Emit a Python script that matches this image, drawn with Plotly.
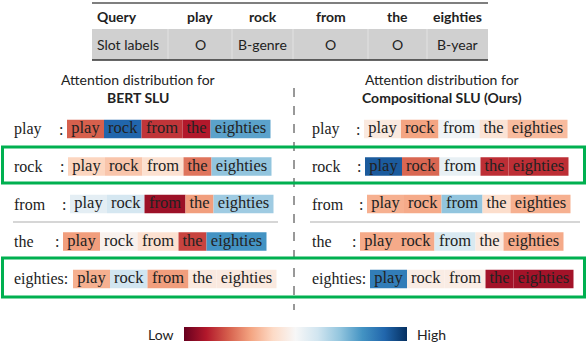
import plotly.graph_objects as go

# ---------------- data ----------------
words = ["play", "rock", "from", "the", "eighties"]
query_tokens = ["play", "rock", "from", "the", "eighties"]
slot_labels = ["O", "B-genre", "O", "O", "B-year"]
row_labels = ["play", "rock", "from", "the", "eighties:"]
panel_titles = ["BERT SLU", "Compositional SLU (Ours)"]

# attention weights mapped on a 0 (low) .. 1 (high) scale, rows = query word
bert_attention = [
    [0.20, 0.90, 0.14, 0.10, 0.77],
    [0.39, 0.36, 0.42, 0.23, 0.70],
    [0.55, 0.59, 0.07, 0.29, 0.68],
    [0.29, 0.48, 0.42, 0.16, 0.80],
    [0.32, 0.60, 0.29, 0.45, 0.45],
]
comp_attention = [
    [0.45, 0.30, 0.52, 0.43, 0.34],
    [0.92, 0.21, 0.54, 0.13, 0.13],
    [0.32, 0.31, 0.70, 0.41, 0.32],
    [0.31, 0.31, 0.58, 0.45, 0.31],
    [0.85, 0.46, 0.46, 0.08, 0.08],
]

# ---------------- layout constants ----------------
W, H = 588, 342
CELL_W = {"play": 37, "rock": 37.5, "from": 41, "the": 28, "eighties": 60}
ROW_Y0, ROW_STEP, CELL_H = 129, 37.5, 18.5
LABEL_X = [12, 310]
ROW_START = [[67, 68, 70, 63, 73], [364, 365, 367, 360, 370]]
TITLE_X = [138, 442]
SERIF = "Liberation Serif"
SERIF_SIZE = 16.5
LABEL_SIZE = 16
SANS = "Lato"
TXT = "#222222"

colorscale = [[0.0, "#67001f"], [0.1, "#b2182b"], [0.2, "#d6604d"], [0.3, "#f4a582"],
              [0.4, "#fddbc7"], [0.5, "#f7f7f7"], [0.6, "#d1e5f0"], [0.7, "#92c5de"],
              [0.8, "#4393c3"], [0.9, "#2166ac"], [1.0, "#053061"]]

fig = go.Figure()
annotations = []
shapes = []

for p, mat in enumerate([bert_attention, comp_attention]):
    xs, bases, ys, cols, cx, cy, ctext = [], [], [], [], [], [], []
    for r, row in enumerate(mat):
        yc = ROW_Y0 + r * ROW_STEP
        x0 = ROW_START[p][r]
        for w, v in zip(words, row):
            wd = CELL_W[w]
            xs.append(wd)
            bases.append(x0)
            ys.append(yc)
            cols.append(v)
            cx.append(x0 + wd / 2)
            cy.append(yc)
            ctext.append(w)
            x0 += wd
        annotations.append(dict(x=LABEL_X[p], y=yc, xref="x", yref="y", text=row_labels[r],
                                showarrow=False, xanchor="left", yanchor="middle",
                                font=dict(family=SERIF, size=LABEL_SIZE, color=TXT)))
        if not row_labels[r].endswith(":"):
            annotations.append(dict(x=ROW_START[p][r] - 6, y=yc, xref="x", yref="y", text=":",
                                    showarrow=False, xanchor="center", yanchor="middle",
                                    font=dict(family=SERIF, size=LABEL_SIZE, color=TXT)))
    marker = dict(color=cols, colorscale=colorscale, cmin=0, cmax=1, line=dict(width=0))
    if p == 0:
        marker.update(showscale=True, colorbar=dict(
            orientation="h", x=(184 + 407) / 2 / W, xanchor="center",
            y=(H - 341) / H, yanchor="bottom", len=223, lenmode="pixels",
            thickness=14, thicknessmode="pixels", showticklabels=False, ticks="",
            outlinewidth=0, xpad=0, ypad=0))
    fig.add_trace(go.Bar(x=xs, base=bases, y=ys, orientation="h", width=CELL_H,
                         marker=marker, hoverinfo="skip", showlegend=False))
    fig.add_trace(go.Scatter(x=cx, y=cy, mode="text", text=ctext, textposition="middle center",
                             textfont=dict(family=SERIF, size=SERIF_SIZE, color=TXT),
                             hoverinfo="skip", showlegend=False))
    annotations.append(dict(x=TITLE_X[p], y=79, xref="x", yref="y", text="Attention distribution for",
                            showarrow=False, font=dict(family=SANS, size=14, color=TXT)))
    annotations.append(dict(x=TITLE_X[p], y=97, xref="x", yref="y", text="<b>%s</b>" % panel_titles[p],
                            showarrow=False, font=dict(family=SANS, size=14, color=TXT)))
    sep_x = [(13, 278), (310, 580)][p]
    shapes.append(dict(type="line", xref="x", yref="y", x0=sep_x[0], x1=sep_x[1], y0=222, y1=222,
                       line=dict(color="#c8c8c8", width=1.5)))

# ---------------- table ----------------
col_edges = [92, 168, 232, 293, 368, 427, 488]
shapes.append(dict(type="rect", xref="x", yref="y", x0=92, x1=488, y0=29, y1=60,
                   fillcolor="#d0d0d0", line=dict(width=0), layer="below"))
for e in col_edges[1:-1]:
    shapes.append(dict(type="line", xref="x", yref="y", x0=e, x1=e, y0=29, y1=60,
                       line=dict(color="#e2e2e2", width=1)))
shapes.append(dict(type="line", xref="x", yref="y", x0=92, x1=488, y0=3, y1=3,
                   line=dict(color="#555555", width=1.5)))
shapes.append(dict(type="line", xref="x", yref="y", x0=92, x1=488, y0=60, y1=60,
                   line=dict(color="#333333", width=1.5)))
annotations.append(dict(x=95, y=16, xref="x", yref="y", text="<b>Query</b>", showarrow=False,
                        xanchor="left", font=dict(family=SANS, size=14, color=TXT)))
annotations.append(dict(x=95, y=44, xref="x", yref="y", text="Slot labels", showarrow=False,
                        xanchor="left", font=dict(family=SANS, size=14, color=TXT)))
for i, (q, s) in enumerate(zip(query_tokens, slot_labels)):
    xc = (col_edges[i + 1] + col_edges[i + 2]) / 2
    annotations.append(dict(x=xc, y=16, xref="x", yref="y", text="<b>%s</b>" % q, showarrow=False,
                            font=dict(family=SANS, size=14, color=TXT)))
    annotations.append(dict(x=xc, y=44, xref="x", yref="y", text=s, showarrow=False,
                            font=dict(family=SANS, size=14, color=TXT)))

# ---------------- decorations ----------------
shapes.append(dict(type="line", xref="x", yref="y", x0=294, x1=294, y0=88, y1=310,
                   line=dict(color="#333333", width=1, dash="dash")))
for (y0, y1) in [(147, 183), (258, 297)]:
    shapes.append(dict(type="rect", xref="x", yref="y", x0=2.5, x1=584.5, y0=y0, y1=y1,
                       line=dict(color="#00b050", width=3), fillcolor="rgba(0,0,0,0)"))

annotations.append(dict(x=176, y=334, xref="x", yref="y", text="Low", showarrow=False,
                        xanchor="right", font=dict(family=SANS, size=14, color=TXT)))
annotations.append(dict(x=415, y=334, xref="x", yref="y", text="High", showarrow=False,
                        xanchor="left", font=dict(family=SANS, size=14, color=TXT)))

fig.update_layout(
    width=W, height=H, margin=dict(l=0, r=0, t=0, b=0),
    paper_bgcolor="white", plot_bgcolor="white", barmode="overlay",
    xaxis=dict(range=[0, W], visible=False, fixedrange=True),
    yaxis=dict(range=[H, 0], visible=False, fixedrange=True),
    annotations=annotations, shapes=shapes, showlegend=False,
)

fig.write_html("out.html", config={"displayModeBar": False, "staticPlot": True},
               post_script="document.body.style.margin='0';document.body.style.overflow='hidden';")
